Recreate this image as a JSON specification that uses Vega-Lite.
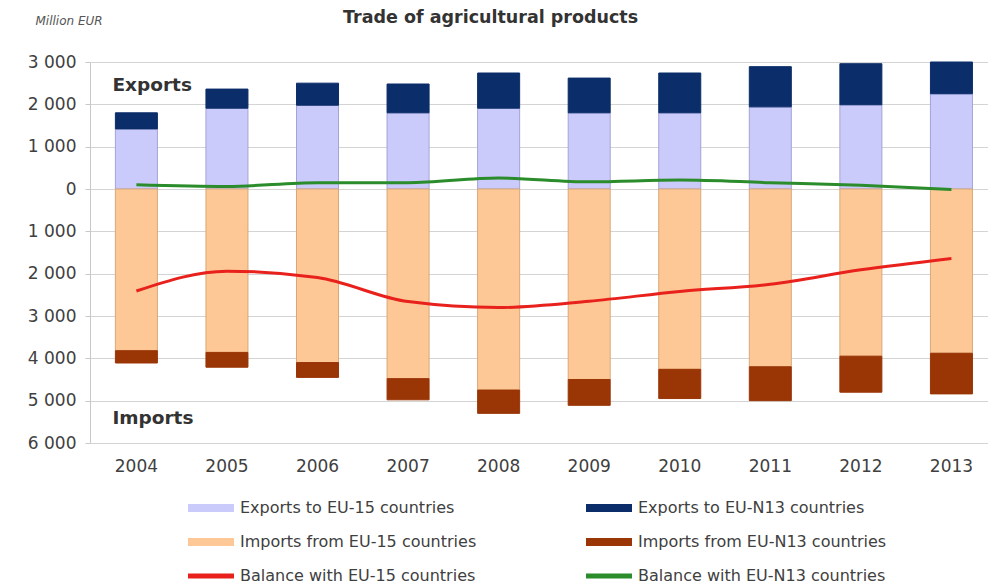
{
  "$schema": "https://vega.github.io/schema/vega-lite/v6.json",
  "width": 898,
  "height": 381,
  "autosize": "none",
  "padding": {"left": 90, "top": 62, "right": 0, "bottom": 142},
  "background": "white",
  "config": {
    "font": "DejaVu Sans",
    "view": {"stroke": null}
  },
  "title": {
    "text": "Trade of agricultural products",
    "anchor": "start",
    "frame": "group",
    "dx": 253,
    "offset": -12,
    "fontSize": 17.5,
    "fontWeight": "bold",
    "color": "#333333",
    "font": "DejaVu Sans"
  },
  "datasets": {
    "bars": [
      {"year": "2004", "series": "Exports to EU-15 countries", "value": 1420},
      {"year": "2005", "series": "Exports to EU-15 countries", "value": 1910},
      {"year": "2006", "series": "Exports to EU-15 countries", "value": 1980},
      {"year": "2007", "series": "Exports to EU-15 countries", "value": 1800},
      {"year": "2008", "series": "Exports to EU-15 countries", "value": 1910},
      {"year": "2009", "series": "Exports to EU-15 countries", "value": 1800},
      {"year": "2010", "series": "Exports to EU-15 countries", "value": 1800},
      {"year": "2011", "series": "Exports to EU-15 countries", "value": 1940},
      {"year": "2012", "series": "Exports to EU-15 countries", "value": 1990},
      {"year": "2013", "series": "Exports to EU-15 countries", "value": 2250},
      {"year": "2004", "series": "Exports to EU-N13 countries", "value": 380},
      {"year": "2005", "series": "Exports to EU-N13 countries", "value": 450},
      {"year": "2006", "series": "Exports to EU-N13 countries", "value": 520},
      {"year": "2007", "series": "Exports to EU-N13 countries", "value": 680},
      {"year": "2008", "series": "Exports to EU-N13 countries", "value": 830},
      {"year": "2009", "series": "Exports to EU-N13 countries", "value": 820},
      {"year": "2010", "series": "Exports to EU-N13 countries", "value": 940},
      {"year": "2011", "series": "Exports to EU-N13 countries", "value": 950},
      {"year": "2012", "series": "Exports to EU-N13 countries", "value": 970},
      {"year": "2013", "series": "Exports to EU-N13 countries", "value": 750},
      {"year": "2004", "series": "Imports from EU-15 countries", "value": -3820},
      {"year": "2005", "series": "Imports from EU-15 countries", "value": -3860},
      {"year": "2006", "series": "Imports from EU-15 countries", "value": -4100},
      {"year": "2007", "series": "Imports from EU-15 countries", "value": -4480},
      {"year": "2008", "series": "Imports from EU-15 countries", "value": -4750},
      {"year": "2009", "series": "Imports from EU-15 countries", "value": -4500},
      {"year": "2010", "series": "Imports from EU-15 countries", "value": -4260},
      {"year": "2011", "series": "Imports from EU-15 countries", "value": -4200},
      {"year": "2012", "series": "Imports from EU-15 countries", "value": -3950},
      {"year": "2013", "series": "Imports from EU-15 countries", "value": -3880},
      {"year": "2004", "series": "Imports from EU-N13 countries", "value": -290},
      {"year": "2005", "series": "Imports from EU-N13 countries", "value": -350},
      {"year": "2006", "series": "Imports from EU-N13 countries", "value": -350},
      {"year": "2007", "series": "Imports from EU-N13 countries", "value": -500},
      {"year": "2008", "series": "Imports from EU-N13 countries", "value": -550},
      {"year": "2009", "series": "Imports from EU-N13 countries", "value": -610},
      {"year": "2010", "series": "Imports from EU-N13 countries", "value": -690},
      {"year": "2011", "series": "Imports from EU-N13 countries", "value": -800},
      {"year": "2012", "series": "Imports from EU-N13 countries", "value": -850},
      {"year": "2013", "series": "Imports from EU-N13 countries", "value": -960}
    ],
    "lines": [
      {"year": "2004", "series": "Balance with EU-15 countries", "value": -2410},
      {"year": "2005", "series": "Balance with EU-15 countries", "value": -1940},
      {"year": "2006", "series": "Balance with EU-15 countries", "value": -2090},
      {"year": "2007", "series": "Balance with EU-15 countries", "value": -2660},
      {"year": "2008", "series": "Balance with EU-15 countries", "value": -2800},
      {"year": "2009", "series": "Balance with EU-15 countries", "value": -2650},
      {"year": "2010", "series": "Balance with EU-15 countries", "value": -2420},
      {"year": "2011", "series": "Balance with EU-15 countries", "value": -2250},
      {"year": "2012", "series": "Balance with EU-15 countries", "value": -1910},
      {"year": "2013", "series": "Balance with EU-15 countries", "value": -1640},
      {"year": "2004", "series": "Balance with EU-N13 countries", "value": 100},
      {"year": "2005", "series": "Balance with EU-N13 countries", "value": 60},
      {"year": "2006", "series": "Balance with EU-N13 countries", "value": 150},
      {"year": "2007", "series": "Balance with EU-N13 countries", "value": 150},
      {"year": "2008", "series": "Balance with EU-N13 countries", "value": 260},
      {"year": "2009", "series": "Balance with EU-N13 countries", "value": 170},
      {"year": "2010", "series": "Balance with EU-N13 countries", "value": 210},
      {"year": "2011", "series": "Balance with EU-N13 countries", "value": 150},
      {"year": "2012", "series": "Balance with EU-N13 countries", "value": 90},
      {"year": "2013", "series": "Balance with EU-N13 countries", "value": -10}
    ]
  },
  "encoding": {
    "x": {
      "field": "year",
      "type": "nominal",
      "scale": {"paddingInner": 0.536, "paddingOuter": 0.226, "align": 0.62},
      "axis": {
        "title": null,
        "labelAngle": 0,
        "domain": false,
        "ticks": false,
        "labelPadding": 15,
        "labelFontSize": 17,
        "labelColor": "#404040",
        "labelFont": "DejaVu Sans"
      }
    }
  },
  "layer": [
    {
      "data": {"name": "bars"},
      "mark": {"type": "bar", "strokeWidth": 1},
      "encoding": {
        "y": {
          "field": "value",
          "type": "quantitative",
          "stack": "zero",
          "scale": {"domain": [-6000, 3000], "nice": false},
          "axis": {
            "title": "Million EUR",
            "titleAngle": 0,
            "titleAlign": "left",
            "titleBaseline": "middle",
            "titleX": -55,
            "titleY": -42,
            "titleFontSize": 12,
            "titleFontStyle": "italic",
            "titleFontWeight": "normal",
            "titleColor": "#555555",
            "values": [-6000, -5000, -4000, -3000, -2000, -1000, 0, 1000, 2000, 3000],
            "labelExpr": "replace(format(abs(datum.value), ','), ',', ' ')",
            "labelFontSize": 17,
            "labelColor": "#404040",
            "labelPadding": 9,
            "domainColor": "#c8c8c8",
            "tickColor": "#c8c8c8",
            "tickSize": 5,
            "gridColor": "#d4d4d4",
            "gridWidth": 1.2
          }
        },
        "color": {
          "field": "series",
          "type": "nominal",
          "scale": {
            "domain": [
              "Exports to EU-15 countries",
              "Imports from EU-15 countries",
              "Balance with EU-15 countries",
              "Exports to EU-N13 countries",
              "Imports from EU-N13 countries",
              "Balance with EU-N13 countries"
            ],
            "range": ["#cbcbfb", "#fdc895", "#e8211c", "#0b2d69", "#9a3506", "#2a8c2a"]
          },
          "legend": {
            "title": null,
            "orient": "none",
            "legendX": 113,
            "legendY": 438,
            "columns": 2,
            "columnPadding": 109,
            "rowPadding": 18,
            "symbolSize": 100,
            "symbolStrokeWidth": 0,
            "labelOffset": 21,
            "labelFontSize": 16,
            "labelColor": "#404040",
            "labelFont": "DejaVu Sans",
            "labelLimit": 400,
            "encode": {
              "symbols": {
                "update": {
                  "shape": {"signal": "indexof(datum.label, 'Balance') === 0 ? 'M-4.6,-0.5H4.6V0.5H-4.6Z' : 'M-4.6,-0.8H4.6V0.8H-4.6Z'"}
                }
              }
            }
          }
        },
        "stroke": {
          "field": "series",
          "type": "nominal",
          "scale": {
            "domain": [
              "Exports to EU-15 countries",
              "Exports to EU-N13 countries",
              "Imports from EU-15 countries",
              "Imports from EU-N13 countries"
            ],
            "range": ["#a3a3d6", "#0b2d69", "#d8a878", "#9a3506"]
          },
          "legend": null
        },
        "order": {"field": "series", "sort": "ascending"}
      }
    },
    {
      "data": {"name": "lines"},
      "mark": {"type": "line", "strokeWidth": 3, "interpolate": "monotone"},
      "encoding": {
        "y": {"field": "value", "type": "quantitative"},
        "color": {"field": "series", "type": "nominal", "legend": null}
      }
    },
    {
      "data": {"values": [{}]},
      "mark": {"type": "text", "text": "Exports", "align": "left", "baseline": "middle", "dx": -24, "fontSize": 18.5, "fontWeight": "bold", "color": "#333333"},
      "encoding": {
        "x": {"datum": "2004"},
        "y": {"datum": 2460}
      }
    },
    {
      "data": {"values": [{}]},
      "mark": {"type": "text", "text": "Imports", "align": "left", "baseline": "middle", "dx": -24, "fontSize": 18.5, "fontWeight": "bold", "color": "#333333"},
      "encoding": {
        "x": {"datum": "2004"},
        "y": {"datum": -5420}
      }
    }
  ]
}
